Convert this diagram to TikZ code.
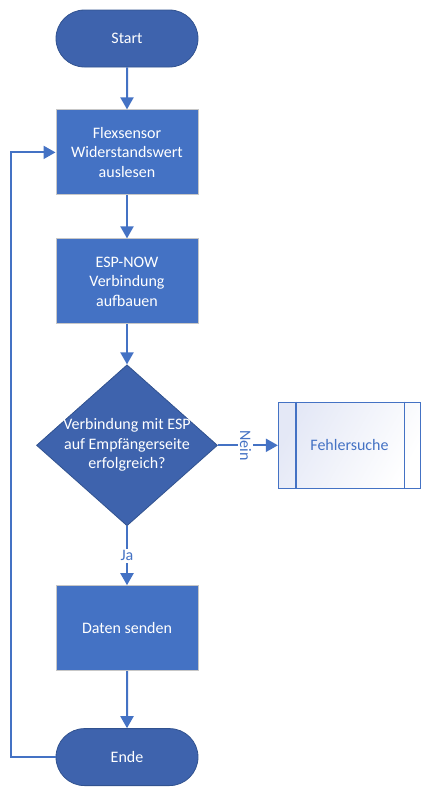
\documentclass[tikz,border=0pt]{standalone}
\usepackage{fontspec}
\setmainfont{Carlito}
\usepackage{tikz}
\usetikzlibrary{arrows.meta,positioning,calc,shapes.geometric,shapes.misc}

\definecolor{boxblue}{HTML}{4472C4}
\definecolor{darkblue}{HTML}{3E63AD}
\definecolor{edgeblue}{HTML}{31528F}
\definecolor{lav}{HTML}{E4E8F6}

\begin{document}
\begin{tikzpicture}[x=1pt, y=1pt, ->, >={Triangle[length=12pt,width=13pt]},
        font=\fontsize{16}{19.5}\selectfont]
        \tikzstyle{terminal}=[rounded rectangle, fill=darkblue, draw=edgeblue, line width=0.8pt, text=white, minimum width=142pt, minimum height=57pt, inner sep=0pt]
        \tikzstyle{process}=[rectangle, fill=boxblue, draw=black!22, line width=1pt, text=white, minimum width=142pt, minimum height=85pt, inner sep=0pt, align=center]
        \tikzstyle{decision}=[diamond, fill=darkblue, draw=edgeblue, line width=0.8pt, text=white, minimum width=181pt, minimum height=161pt, aspect=1.12, inner xsep=-10pt, inner ysep=-6pt, align=center]
        \tikzstyle{subproc}=[rectangle, left color=lav, right color=white, shading angle=60, draw=boxblue, line width=1.2pt, text=boxblue, minimum width=142pt, minimum height=86pt, inner sep=0pt]
        \tikzstyle{flow}=[draw=boxblue, line width=2pt]
        \tikzstyle{answer}=[fill=white, text=boxblue, inner sep=2pt]
        \useasboundingbox (0,0) rectangle (430,-796);

        \node[terminal] (start) at (127,-38.5) {Start};
        \node[process]  (flex)  [below=42pt of start] {Flexsensor\\Widerstandswert\\auslesen};
        \node[process]  (conn)  [below=43pt of flex]  {ESP-NOW\\Verbindung\\aufbauen};
        \node[decision] (check) [below=40pt of conn]  {Verbindung mit ESP\\auf Empfängerseite\\erfolgreich?};
        \node[subproc]  (debug) [right=60pt of check] {Fehlersuche};
        \node[process]  (send)  [below=59pt of check] {Daten senden};
        \node[terminal] (ende)  [below=57pt of send]  {Ende};

        \draw[-, draw=boxblue, line width=1.2pt] ($(debug.north west)+(18,0)$) -- ($(debug.south west)+(18,0)$);
        \draw[-, draw=boxblue, line width=1.2pt] ($(debug.north east)+(-17,0)$) -- ($(debug.south east)+(-17,0)$);

        \draw[flow] (start) -- (flex);
        \draw[flow] (flex) -- (conn);
        \draw[flow] (conn) -- (check);
        \draw[flow] (check) -- node[answer, rotate=-90, pos=0.46]{Nein} (debug);
        \draw[flow] (check) -- node[answer]{Ja} (send);
        \draw[flow] (send) -- (ende);
        \draw[flow] (ende.west) -- ++(-45,0) |- (flex.west);
\end{tikzpicture}
\end{document}
